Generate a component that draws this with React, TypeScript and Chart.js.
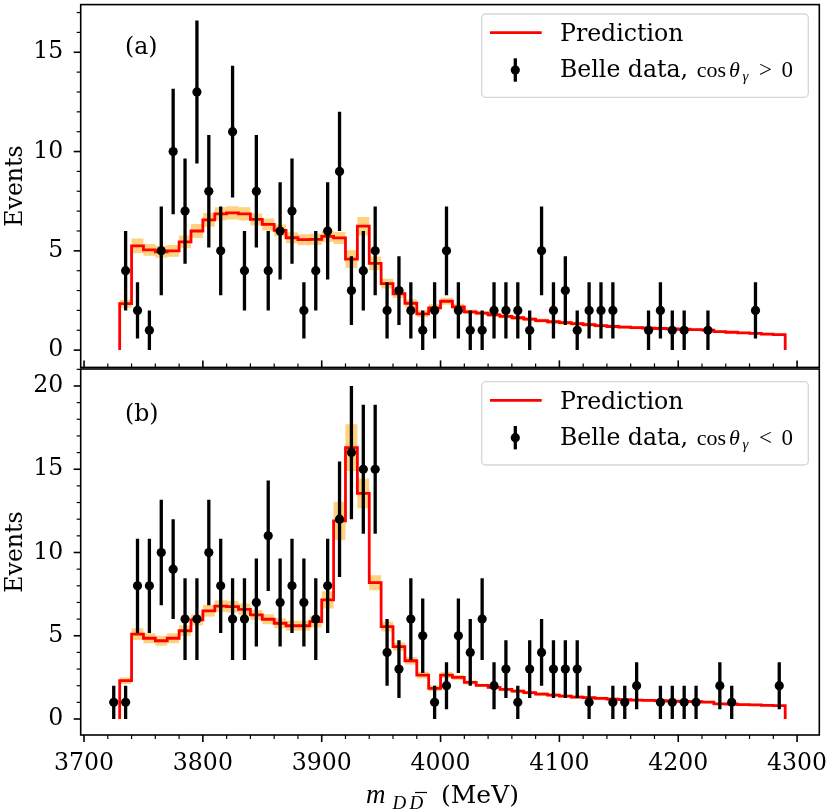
import { Chart, registerables } from "chart.js";
import { useEffect, useRef } from "react";

Chart.register(...registerables);

const SERIF = "'DejaVu Serif', serif";
const MATH = "'Liberation Serif', 'DejaVu Serif', serif";
const SIZE = 23.6;

const X_MIN = 3697.2;
const X_MAX = 4318.7;
const AREA_LEFT = 80.7;
const AREA_RIGHT = 819.3;

// edges of the 10 MeV prediction bins
const binEdges = [
  3730, 3740, 3750, 3760, 3770, 3780, 3790, 3800, 3810, 3820, 3830, 3840, 3850,
  3860, 3870, 3880, 3890, 3900, 3910, 3920, 3930, 3940, 3950, 3960, 3970, 3980,
  3990, 4000, 4010, 4020, 4030, 4040, 4050, 4060, 4070, 4080, 4090, 4100, 4110,
  4120, 4130, 4140, 4150, 4160, 4170, 4180, 4190, 4200, 4210, 4220, 4230, 4240,
  4250, 4260, 4270, 4280, 4290,
];

// prediction per bin and its half band, cos > 0
const predTop = [
  2.34, 5.25, 5.05, 4.95, 5.0, 5.45, 6.0, 6.56, 6.86, 6.91,
  6.86, 6.58, 6.33, 6.03, 5.66, 5.56, 5.58, 5.73, 5.65, 4.58,
  6.24, 4.37, 3.35, 2.84, 2.36, 1.83, 2.13, 2.46, 2.18, 1.93,
  1.86, 1.78, 1.7, 1.63, 1.56, 1.49, 1.43, 1.38, 1.33, 1.28,
  1.23, 1.19, 1.16, 1.13, 1.11, 1.09, 1.07, 1.05, 1.03, 1.01,
  0.93, 0.9, 0.87, 0.84, 0.81, 0.78,
];
const bandTop = [
  0.2, 0.37, 0.3, 0.3, 0.3, 0.32, 0.35, 0.35, 0.33, 0.33,
  0.33, 0.3, 0.3, 0.3, 0.28, 0.28, 0.28, 0.28, 0.3, 0.45,
  0.47, 0.35, 0.25, 0.22, 0.2, 0.18, 0.18, 0.18, 0.15, 0.12,
  0.1, 0.1, 0.1, 0.1, 0.1, 0.1, 0.1, 0.1, 0.1, 0.1,
  0.09, 0.09, 0.08, 0.08, 0.08, 0.08, 0.07, 0.07, 0.07, 0.07,
  0.06, 0.06, 0.06, 0.06, 0.06, 0.06,
];

// prediction per bin and its half band, cos < 0
const predBottom = [
  2.3, 5.1, 4.85, 4.7, 4.85, 5.3, 5.95, 6.5, 6.78, 6.75,
  6.59, 6.25, 5.99, 5.75, 5.6, 5.6, 5.85, 7.15, 11.9, 16.3,
  13.55, 8.19, 5.55, 4.35, 3.5, 2.64, 1.84, 2.64, 2.5, 2.2,
  2.02, 1.9, 1.78, 1.68, 1.58, 1.5, 1.44, 1.38, 1.32, 1.28,
  1.24, 1.2, 1.17, 1.14, 1.12, 1.1, 1.08, 1.06, 1.04, 1.02,
  0.91, 0.89, 0.87, 0.85, 0.82, 0.8,
];
const bandBottom = [
  0.2, 0.35, 0.3, 0.3, 0.3, 0.32, 0.33, 0.35, 0.35, 0.35,
  0.35, 0.3, 0.3, 0.3, 0.3, 0.3, 0.35, 0.52, 1.15, 1.4,
  0.9, 0.45, 0.3, 0.25, 0.22, 0.2, 0.18, 0.18, 0.15, 0.12,
  0.1, 0.1, 0.1, 0.1, 0.1, 0.1, 0.1, 0.1, 0.1, 0.1,
  0.09, 0.09, 0.08, 0.08, 0.08, 0.08, 0.07, 0.07, 0.07, 0.07,
  0.06, 0.06, 0.06, 0.06, 0.06, 0.06,
];

// Belle events, cos > 0
const massTop = [
  3735, 3745, 3755, 3765, 3775, 3785, 3795, 3805, 3815, 3825,
  3835, 3845, 3855, 3865, 3875, 3885, 3895, 3905, 3915, 3925,
  3935, 3945, 3955, 3965, 3975, 3985, 3995, 4005, 4015, 4025,
  4035, 4045, 4055, 4065, 4075, 4085, 4095, 4105, 4115, 4125,
  4135, 4145, 4175, 4185, 4195, 4205, 4225, 4265,
];
const countsTop = [
  4, 2, 1, 5, 10, 7, 13, 8, 5, 11,
  4, 8, 4, 6, 7, 2, 4, 6, 9, 3,
  4, 5, 2, 3, 2, 1, 2, 5, 2, 1,
  1, 2, 2, 2, 1, 5, 2, 3, 1, 2,
  2, 2, 1, 2, 1, 1, 1, 2,
];

// Belle events, cos < 0
const massBottom = [
  3725, 3735, 3745, 3755, 3765, 3775, 3785, 3795, 3805, 3815,
  3825, 3835, 3845, 3855, 3865, 3875, 3885, 3895, 3905, 3915,
  3925, 3935, 3945, 3955, 3965, 3975, 3985, 3995, 4005, 4015,
  4025, 4035, 4045, 4055, 4065, 4075, 4085, 4095, 4105, 4115,
  4125, 4145, 4155, 4165, 4185, 4195, 4205, 4215, 4235, 4245,
  4285,
];
const countsBottom = [
  1, 1, 8, 8, 10, 9, 6, 6, 10, 8,
  6, 6, 7, 11, 7, 8, 7, 6, 8, 12,
  16, 15, 15, 4, 3, 6, 5, 1, 2, 5,
  4, 6, 2, 3, 1, 3, 4, 3, 3, 3,
  1, 1, 1, 2, 1, 1, 1, 1, 2, 1,
  2,
];

const xTicks = [3700, 3800, 3900, 4000, 4100, 4200, 4300];
const yTicksTop = [0, 5, 10, 15];
const yTicksBottom = [0, 5, 10, 15, 20];

type PanelSpec = {
  canvasTop: number;
  canvasHeight: number;
  padTop: number;
  padBottom: number;
  yMin: number;
  yMax: number;
  yTicks: number[];
  pred: number[];
  band: number[];
  mass: number[];
  counts: number[];
  tag: string;
  tagBaseline: number;
  legendTop: number;
  relation: string;
  xAxisBelow: boolean;
};

const stepLine = (vals: number[]) => [
  { x: binEdges[0], y: 0 },
  ...vals.map((v, i) => ({ x: binEdges[i], y: v })),
  { x: binEdges[vals.length], y: vals[vals.length - 1] },
  { x: binEdges[vals.length], y: 0 },
];

const bandEdge = (vals: number[], errs: number[], sign: number) => {
  const pts = vals.map((v, i) => ({ x: binEdges[i], y: v + sign * errs[i] }));
  pts.push({ x: binEdges[vals.length], y: pts[pts.length - 1].y });
  return pts;
};

const seg = (ctx: CanvasRenderingContext2D, x1: number, y1: number, x2: number, y2: number, w: number) => {
  ctx.lineWidth = w;
  ctx.beginPath();
  ctx.moveTo(x1, y1);
  ctx.lineTo(x2, y2);
  ctx.stroke();
};

const drawLegend = (ctx: CanvasRenderingContext2D, top: number, relation: string) => {
  const x = 481.7, w = 326.6, h = 83.3, r = 4;
  ctx.beginPath();
  ctx.moveTo(x + r, top);
  ctx.arcTo(x + w, top, x + w, top + h, r);
  ctx.arcTo(x + w, top + h, x, top + h, r);
  ctx.arcTo(x, top + h, x, top, r);
  ctx.arcTo(x, top, x + w, top, r);
  ctx.closePath();
  ctx.fillStyle = "rgba(255,255,255,0.8)";
  ctx.fill();
  ctx.strokeStyle = "#d6d6d6";
  ctx.lineWidth = 1.3;
  ctx.stroke();

  ctx.strokeStyle = "#ff0000";
  seg(ctx, 490, top + 18.7, 541.7, top + 18.7, 2.8);

  ctx.strokeStyle = "#000";
  ctx.fillStyle = "#000";
  seg(ctx, 515.3, top + 44.3, 515.3, top + 67.7, 3.3);
  ctx.beginPath();
  ctx.arc(515.3, top + 56, 4.6, 0, Math.PI * 2);
  ctx.fill();

  ctx.textAlign = "left";
  ctx.textBaseline = "alphabetic";
  ctx.font = `${SIZE}px ${SERIF}`;
  ctx.fillText("Prediction", 560, top + 26.8);
  ctx.fillText("Belle data,", 560, top + 63.3);

  const base = top + 63.3;
  ctx.font = `22px ${MATH}`;
  ctx.fillText("cos", 696.7, base);
  ctx.font = `italic 22px ${MATH}`;
  ctx.fillText("\u03b8", 729, base);
  ctx.font = `italic 15px ${MATH}`;
  ctx.fillText("\u03b3", 742.5, base + 4);
  ctx.font = `23px ${MATH}`;
  ctx.fillText(relation, 759, base);
  ctx.fillText("0", 781.5, base);
};

const Panel = ({ spec }: { spec: PanelSpec }) => {
  const chartRef = useRef<Chart | null>(null);
  const canvasRef = useRef<HTMLCanvasElement | null>(null);

  useEffect(() => {
    if (!canvasRef.current) return;
    if (chartRef.current) chartRef.current.destroy();
    const ctx = canvasRef.current.getContext("2d");
    if (!ctx) return;

    const decor = {
      id: "panelDecor",
      beforeDatasetDraw(chart: any, args: any) {
        if (args.index !== 0) return;
        const c: CanvasRenderingContext2D = chart.ctx;
        const a = chart.chartArea;
        const xs = chart.scales.x;
        const ys = chart.scales.y;
        c.save();
        c.beginPath();
        c.rect(a.left, a.top, a.right - a.left, a.bottom - a.top);
        c.clip();
        c.strokeStyle = "#000";
        c.lineCap = "butt";
        // Poisson error bars
        spec.mass.forEach((m, i) => {
          const n = spec.counts[i];
          const e = Math.sqrt(n);
          const px = xs.getPixelForValue(m);
          seg(c, px, ys.getPixelForValue(n - e), px, ys.getPixelForValue(n + e), 3.3);
        });
        c.restore();
      },
      afterDraw(chart: any) {
        const c: CanvasRenderingContext2D = chart.ctx;
        const a = chart.chartArea;
        const xs = chart.scales.x;
        const ys = chart.scales.y;
        c.save();
        c.strokeStyle = "#000";
        c.fillStyle = "#000";

        for (let v = Math.ceil(spec.yMin); v <= spec.yMax; v++) {
          const py = ys.getPixelForValue(v);
          const major = spec.yTicks.includes(v);
          seg(c, a.left - (major ? 7 : 4), py, a.left, py, major ? 1.6 : 1.2);
        }
        for (let v = 3700; v <= X_MAX; v += 20) {
          const px = xs.getPixelForValue(v);
          const major = xTicks.includes(v);
          const len = major ? 7 : 4;
          if (spec.xAxisBelow) seg(c, px, a.bottom, px, a.bottom + len, major ? 1.6 : 1.2);
          else seg(c, px, a.bottom - len, px, a.bottom, major ? 1.6 : 1.2);
        }
        c.lineWidth = 1.6;
        c.strokeRect(a.left, a.top, a.right - a.left, a.bottom - a.top);

        c.font = `${SIZE}px ${SERIF}`;
        c.textAlign = "right";
        c.textBaseline = "middle";
        spec.yTicks.forEach((v) => c.fillText(String(v), 63.3, ys.getPixelForValue(v)));

        c.save();
        c.translate(21.7, (a.top + a.bottom) / 2);
        c.rotate(-Math.PI / 2);
        c.textAlign = "center";
        c.textBaseline = "alphabetic";
        c.fillText("Events", 0, 0);
        c.restore();

        if (spec.xAxisBelow) {
          c.textAlign = "center";
          c.textBaseline = "alphabetic";
          xTicks.forEach((v) => c.fillText(String(v), xs.getPixelForValue(v), 770 - spec.canvasTop));

          const base = 803 - spec.canvasTop;
          c.textAlign = "left";
          c.font = `italic 27px ${MATH}`;
          c.fillText("m", 366, base);
          c.font = `italic 19px ${MATH}`;
          c.fillText("D", 392.5, base + 5.5);
          c.fillText("D", 409.5, base + 5.5);
          seg(c, 415, base - 10.5, 427, base - 10.5, 1.2);
          c.font = `25px ${SERIF}`;
          c.fillText("(MeV)", 441, base);
        }

        c.textAlign = "left";
        c.textBaseline = "alphabetic";
        c.font = `${SIZE}px ${SERIF}`;
        c.fillText(spec.tag, 125, spec.tagBaseline);

        drawLegend(c, spec.legendTop, spec.relation);
        c.restore();
      },
    };

    chartRef.current = new Chart(ctx, {
      type: "scatter",
      data: {
        datasets: [
          {
            type: "scatter",
            data: spec.mass.map((m, i) => ({ x: m, y: spec.counts[i] })),
            pointRadius: 4.6,
            pointBackgroundColor: "#000",
            pointBorderWidth: 0,
          },
          {
            type: "line",
            data: stepLine(spec.pred),
            stepped: "before",
            borderColor: "#ff0000",
            borderWidth: 2.8,
            pointRadius: 0,
            fill: false,
          },
          {
            type: "line",
            data: bandEdge(spec.pred, spec.band, 1),
            stepped: "before",
            borderWidth: 0,
            pointRadius: 0,
            backgroundColor: "rgba(255,165,0,0.5)",
            fill: "+1",
          },
          {
            type: "line",
            data: bandEdge(spec.pred, spec.band, -1),
            stepped: "before",
            borderWidth: 0,
            pointRadius: 0,
            fill: false,
          },
        ],
      } as any,
      options: {
        animation: false,
        responsive: false,
        events: [],
        layout: {
          padding: {
            left: AREA_LEFT,
            right: 831 - AREA_RIGHT,
            top: spec.padTop,
            bottom: spec.padBottom,
          },
        },
        plugins: {
          legend: { display: false },
          tooltip: { enabled: false },
        },
        scales: {
          x: { type: "linear", min: X_MIN, max: X_MAX, display: false },
          y: { type: "linear", min: spec.yMin, max: spec.yMax, display: false },
        },
      },
      plugins: [decor],
    });

    return () => {
      if (chartRef.current) {
        chartRef.current.destroy();
        chartRef.current = null;
      }
    };
  }, []);

  return (
    <canvas
      ref={canvasRef}
      width={831}
      height={spec.canvasHeight}
      style={{ position: "absolute", left: 0, top: spec.canvasTop, width: 831, height: spec.canvasHeight }}
    ></canvas>
  );
};

const topSpec: PanelSpec = {
  canvasTop: 0,
  canvasHeight: 372,
  padTop: 1.7,
  padBottom: 3,
  yMin: -0.87,
  yMax: 17.4,
  yTicks: yTicksTop,
  pred: predTop,
  band: bandTop,
  mass: massTop,
  counts: countsTop,
  tag: "(a)",
  tagBaseline: 53.5,
  legendTop: 14,
  relation: ">",
  xAxisBelow: false,
};

const bottomSpec: PanelSpec = {
  canvasTop: 360,
  canvasHeight: 452,
  padTop: 9,
  padBottom: 77,
  yMin: -0.96,
  yMax: 21.02,
  yTicks: yTicksBottom,
  pred: predBottom,
  band: bandBottom,
  mass: massBottom,
  counts: countsBottom,
  tag: "(b)",
  tagBaseline: 60.5,
  legendTop: 21.7,
  relation: "<",
  xAxisBelow: true,
};

export default function App() {
  return (
    <div style={{ position: "absolute", left: 0, top: 0, width: 831, height: 812, background: "#fff", overflow: "hidden" }}>
      <Panel spec={topSpec} />
      <Panel spec={bottomSpec} />
    </div>
  );
}
